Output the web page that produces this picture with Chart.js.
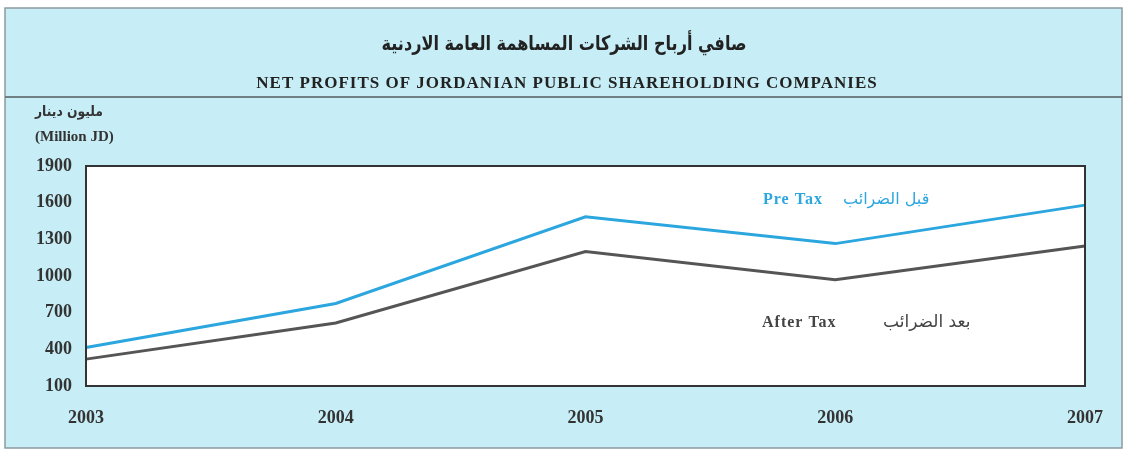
<!DOCTYPE html>
<html>
<head>
<meta charset="utf-8">
<script src="https://cdn.jsdelivr.net/npm/chart.js@4.4.1/dist/chart.umd.min.js"></script>
<style>
    html, body { margin: 0; padding: 0; background: #fff; }
    canvas { display: block; }
</style>
</head>
<body>
<canvas id="myChart" width="1125" height="453"></canvas>
<script>
const years = ["2003", "2004", "2005", "2006", "2007"];
const preTax = [415, 775, 1485, 1265, 1580];
const afterTax = [320, 615, 1200, 970, 1245];
const yTicks = [100, 400, 700, 1000, 1300, 1600, 1900];

const titleAr = "صافي أرباح الشركات المساهمة العامة الاردنية";
const titleEn = "NET PROFITS OF JORDANIAN PUBLIC SHAREHOLDING COMPANIES";
const unitAr = "مليون دينار";
const unitEn = "(Million JD)";
const preLabel = ["Pre Tax", "قبل الضرائب"];
const afterLabel = ["After Tax", "بعد الضرائب"];

const SERIF = '"Liberation Serif", "DejaVu Serif", serif';
const ARABIC = '"DejaVu Sans", sans-serif';
const CYAN = "#c7eef6";
const BLUE = "#2ba6de";
const GREY = "#555555";

// panel background, title band and plot frame
const framePlugin = {
    id: "frame",
    beforeDraw(chart) {
        const ctx = chart.ctx;
        const a = chart.chartArea;
        ctx.save();
        ctx.fillStyle = "#ffffff";
        ctx.fillRect(0, 0, chart.width, chart.height);
        ctx.fillStyle = CYAN;
        ctx.fillRect(5, 8, 1117, 440);
        ctx.strokeStyle = "#8a9a9e";
        ctx.lineWidth = 1.5;
        ctx.strokeRect(5, 8, 1117, 440);
        ctx.strokeStyle = "#6f7f84";
        ctx.lineWidth = 2;
        ctx.beginPath();
        ctx.moveTo(5, 97);
        ctx.lineTo(1122, 97);
        ctx.stroke();
        ctx.fillStyle = "#ffffff";
        ctx.fillRect(a.left, a.top, a.right - a.left, a.bottom - a.top);
        ctx.restore();
    },
    afterDraw(chart) {
        const ctx = chart.ctx;
        const a = chart.chartArea;
        ctx.save();
        ctx.strokeStyle = "#333333";
        ctx.lineWidth = 2;
        ctx.strokeRect(a.left, a.top, a.right - a.left, a.bottom - a.top);

        ctx.textBaseline = "middle";
        ctx.textAlign = "center";
        ctx.fillStyle = "#222222";
        ctx.font = "bold 20px " + ARABIC;
        ctx.fillText(titleAr, 564, 45, 365);
        ctx.letterSpacing = "1px";
        ctx.font = "bold 17px " + SERIF;
        ctx.fillText(titleEn, 567, 84, 625);

        ctx.letterSpacing = "0px";
        ctx.textAlign = "left";
        ctx.fillStyle = "#333333";
        ctx.font = "bold 14px " + ARABIC;
        ctx.fillText(unitAr, 35, 112, 68);
        ctx.font = "bold 15px " + SERIF;
        ctx.fillText(unitEn, 35, 137);

        ctx.letterSpacing = "1px";
        ctx.fillStyle = BLUE;
        ctx.font = "bold 16px " + SERIF;
        ctx.fillText(preLabel[0], 763, 200);
        ctx.letterSpacing = "0px";
        ctx.font = "16px " + ARABIC;
        ctx.fillText(preLabel[1], 843, 200, 89);

        ctx.letterSpacing = "1px";
        ctx.fillStyle = "#444444";
        ctx.font = "bold 16px " + SERIF;
        ctx.fillText(afterLabel[0], 762, 323);
        ctx.letterSpacing = "0px";
        ctx.font = "17px " + ARABIC;
        ctx.fillText(afterLabel[1], 883, 323, 90);
        ctx.restore();
    },
};

document.addEventListener("DOMContentLoaded", function () {
    const ctx = document.getElementById("myChart").getContext("2d");

    new Chart(ctx, {
        type: "line",
        data: {
            labels: years,
            datasets: [
                {
                    label: "Pre Tax",
                    data: preTax,
                    borderColor: BLUE,
                    borderWidth: 3,
                    pointRadius: 0,
                    tension: 0,
                },
                {
                    label: "After Tax",
                    data: afterTax,
                    borderColor: GREY,
                    borderWidth: 3,
                    pointRadius: 0,
                    tension: 0,
                },
            ],
        },
        options: {
            responsive: false,
            animation: false,
            layout: {
                padding: { top: 166, right: 39, bottom: 27, left: 0 },
            },
            plugins: {
                legend: { display: false },
                tooltip: { enabled: false },
            },
            scales: {
                x: {
                    grid: { display: false, drawTicks: false },
                    border: { display: false },
                    ticks: {
                        padding: 22,
                        maxRotation: 0,
                        autoSkip: false,
                        color: "#333333",
                        font: { family: SERIF, size: 18, weight: "bold" },
                    },
                    afterFit: (s) => { s.height = 40; },
                },
                y: {
                    min: 100,
                    max: 1900,
                    grid: { display: false, drawTicks: false },
                    border: { display: false },
                    afterBuildTicks: (s) => {
                        s.ticks = yTicks.map((v) => ({ value: v }));
                    },
                    ticks: {
                        padding: 14,
                        color: "#333333",
                        font: { family: SERIF, size: 18, weight: "bold" },
                        callback: (v) => String(v),
                    },
                    afterFit: (s) => { s.width = 86; },
                },
            },
        },
        plugins: [framePlugin],
    });
});
</script>
</body>
</html>
